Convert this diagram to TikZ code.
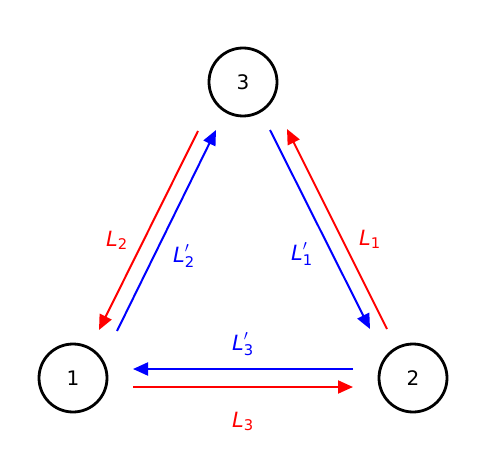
\documentclass[tikz,border=0pt]{standalone}
\usepackage{fontspec}
\setmainfont{DejaVu Sans}
\usepackage{amsmath}
\usetikzlibrary{arrows.meta}

\begin{document}
\begin{tikzpicture}[x=1pt, y=-1pt,
          state/.style={circle, draw=black, line width=2.8pt, minimum size=68pt,
                        inner sep=0pt, outer sep=0pt, font=\fontsize{20}{24}\selectfont},
          rarr/.style={-{Triangle[length=15pt, width=13pt]}, draw=red, line width=2pt},
          barr/.style={-{Triangle[length=15pt, width=13pt]}, draw=blue, line width=2pt},
          lbl/.style={anchor=base, font=\fontsize{21}{25}\selectfont}
        ]
        \useasboundingbox (0,0) rectangle (490,468);

        \node[state] (n1) at (73,  378) {1};
        \node[state] (n2) at (413, 378) {2};
        \node[state] (n3) at (243, 82)  {3};

        % left side
        \draw[rarr] ([shift={(-45pt,-49pt)}]n3.center) -- ([shift={(26pt,48pt)}]n1.center);
        \draw[barr] ([shift={(44pt,47pt)}]n1.center)   -- ([shift={(-27pt,-48pt)}]n3.center);
        % right side
        \draw[rarr] ([shift={(-26pt,49pt)}]n2.center)  -- ([shift={(44pt,-47pt)}]n3.center);
        \draw[barr] ([shift={(27pt,-48pt)}]n3.center)  -- ([shift={(-43pt,49pt)}]n2.center);
        % bottom
        \draw[barr] ([shift={(-60pt,9pt)}]n2.center)   -- ([shift={(60pt,9pt)}]n1.center);
        \draw[rarr] ([shift={(60pt,-9pt)}]n1.center)   -- ([shift={(-60pt,-9pt)}]n2.center);

        \node[lbl, text=red]  (l2)  at (117, 246) {$\textit{L}_{\text{2}}$};
        \node[lbl, text=blue] (l2p) at (184, 262) {$\textit{L}^{\prime}_{\text{2}}$};
        \node[lbl, text=blue] (l1p) at (302, 260) {$\textit{L}^{\prime}_{\text{1}}$};
        \node[lbl, text=red]  (l1)  at (370, 245) {$\textit{L}_{\text{1}}$};
        \node[lbl, text=blue] (l3p) at (243, 350) {$\textit{L}^{\prime}_{\text{3}}$};
        \node[lbl, text=red]  (l3)  at (243, 427) {$\textit{L}_{\text{3}}$};
\end{tikzpicture}
\end{document}
